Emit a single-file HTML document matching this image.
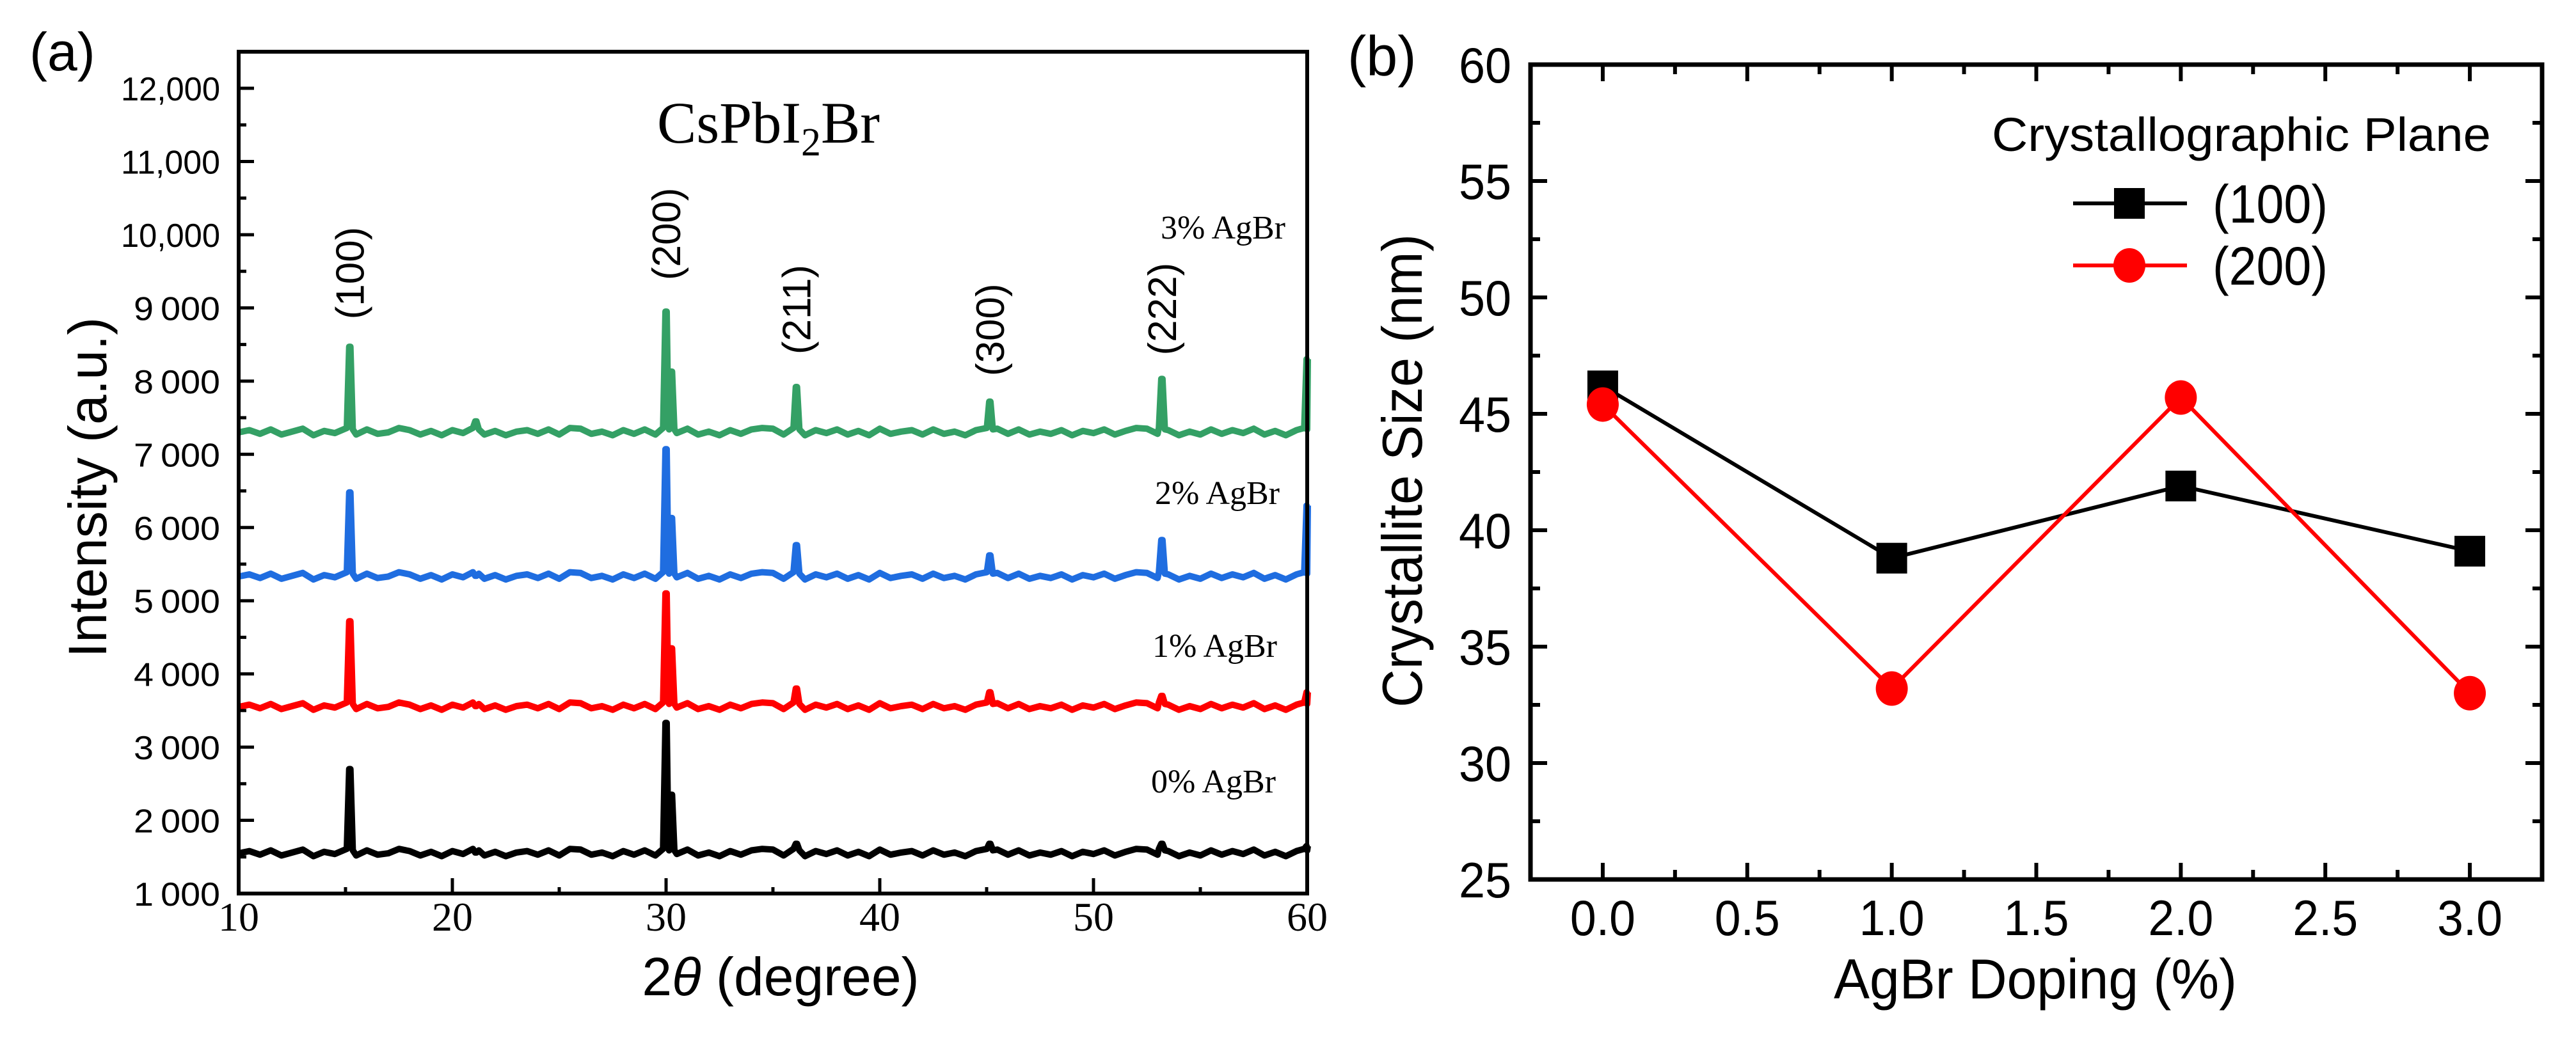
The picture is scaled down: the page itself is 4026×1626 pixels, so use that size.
<!DOCTYPE html>
<html><head><meta charset="utf-8">
<style>
html,body{margin:0;padding:0;background:#fff;}
svg{display:block;}
text{fill:#000;}
</style></head>
<body>
<svg id="fig" xmlns="http://www.w3.org/2000/svg" width="4026" height="1626" viewBox="0 0 4026 1626">
  <rect x="0" y="0" width="4026" height="1626" fill="#fff"/>
  <g id="pa"></g>
  <g id="pb"></g>
</svg>
<script>
// ---------- Panel (a) data ----------
const xrdSeriesNames = ["0% AgBr","1% AgBr","2% AgBr","3% AgBr"];
const xrdColors = ["#000000","#ff0000","#1f6de0","#34a065"];
const xrdBaselines = [1550, 3550, 5330, 7300];
const peakPositions = [15.2, 21.1, 30.0, 30.25, 36.1, 45.15, 53.2, 60.0];
const peaks0 = [2700, 1560, 3330, 2350, 1680, 1680, 1680, 1650];
const peaks1 = [4720, 3560, 5100, 4350, 3800, 3750, 3700, 3750];
const peaks2 = [6480, 5340, 7070, 6130, 5760, 5620, 5830, 6300];
const peaks3 = [8470, 7450, 8950, 8130, 7920, 7720, 8030, 8300];
const ripple = [0,30,-20,40,-30,10,50,-40,20,-10,30,-30,40,-20,0,60,30,-30,20,-40,
  30,-10,40,-30,20,-40,10,30,-20,40,-30,60,50,-20,10,-40,30,-20,40,-30,
  20,-10,50,-30,10,-40,30,-20,40,60,50,-30,20,-40,30,-10,40,-30,20,-40,
  50,-20,10,30,-30,40,-20,10,-40,30,60,50,-20,40,-30,10,-20,30,-40,20,
  -10,40,-30,20,60,50,-20,30,-40,10,-30,40,-20,30,-10,50,-30,20,-40,30,0];
const xTicksA = [10,20,30,40,50,60];
const yTicksA = [1000,2000,3000,4000,5000,6000,7000,8000,9000,10000,11000,12000];
const yTickLabelsA = ["1\u2009000","2\u2009000","3\u2009000","4\u2009000","5\u2009000","6\u2009000","7\u2009000","8\u2009000","9\u2009000","10,000","11,000","12,000"];
const planeLabels = ["(100)","(200)","(211)","(300)","(222)"];
const planePos = [15.2, 30.0, 36.1, 45.15, 53.2];
const planeLabelCenter = [9475, 10010, 8977, 8700, 8985];

// ---------- Panel (b) data ----------
const doping = [0.0, 1.0, 2.0, 3.0];
const size100 = [46.2, 38.8, 41.9, 39.1];
const size200 = [45.4, 33.2, 45.7, 33.0];
const xTicksB = [0.0,0.5,1.0,1.5,2.0,2.5,3.0];
const yTicksB = [25,30,35,40,45,50,55,60];

const NS = "http://www.w3.org/2000/svg";
function mk(parent, tag, attrs, txt){
  const e = document.createElementNS(NS, tag);
  for (const k in attrs) e.setAttribute(k, attrs[k]);
  if (txt !== undefined) e.textContent = txt;
  parent.appendChild(e);
  return e;
}

// ===== Panel A =====
const pa = document.getElementById('pa');
const AL=373, AR=2043, AB=1397;
const ax = v => AL + (v-10)/50*(AR-AL);
const ay = v => AB - (v-1000)*0.11445;
const AT = ay(12500);

const allPeaks=[peaks0,peaks1,peaks2,peaks3];
allPeaks.forEach((pk,si)=>{
  const base = xrdBaselines[si];
  let pts=[];
  for(let i=0;i<ripple.length;i++){ pts.push([10+i*0.5, base+ripple[i]]); }
  pts = pts.filter(q=>{
    for(const p of peakPositions){ if(Math.abs(q[0]-p)<0.2) return false; }
    return true;
  });
  peakPositions.forEach((p,pi)=>{
    const h = pk[pi];
    pts.push([p-0.14, base+60]);
    pts.push([p-0.03, h]);
    pts.push([p+0.03, h]);
    pts.push([Math.min(p+0.14,60), base+40]);
  });
  pts.sort((a,b)=>a[0]-b[0]);
  const d = pts.map((q,i)=>(i?'L':'M')+ax(q[0]).toFixed(1)+','+ay(q[1]).toFixed(1)).join(' ');
  const path = mk(pa,'path',{d:d,fill:'none',stroke:xrdColors[si],'stroke-width':10,'stroke-linejoin':'round'});
  
  
});

const axA = mk(pa,'path',{d:`M${AL},${AT} L${AL},${AB} L${AR},${AB} L${AR},${AT} Z`,fill:'none',stroke:'#000','stroke-width':6});


for(let v=1000; v<=12500; v+=500){
  const major = v%1000===0;
  mk(pa,'line',{x1:AL,x2:AL+(major?24:12),y1:ay(v),y2:ay(v),stroke:'#000','stroke-width':5});
}
yTicksA.forEach((v,i)=>{
  const t = mk(pa,'text',{x:344,y:ay(v)+19,'text-anchor':'end','font-family':'Liberation Sans, sans-serif','font-size':52,'textLength':i>=9?155:135,'lengthAdjust':'spacingAndGlyphs'},yTickLabelsA[i]);
  
  
});
for(let v=10; v<=60; v+=5){
  const major = v%10===0;
  mk(pa,'line',{x1:ax(v),x2:ax(v),y1:AB,y2:AB-(major?24:10),stroke:'#000','stroke-width':5});
}
xTicksA.forEach(v=>{
  const t = mk(pa,'text',{x:ax(v),y:1455,'text-anchor':'middle','font-family':'Liberation Serif, serif','font-size':64},String(v));
  
  
});
let t;
t = mk(pa,'text',{x:1220,y:1556,'text-anchor':'middle','font-family':'Liberation Sans, sans-serif','font-size':84},'');
mk(t,'tspan',{},'2');
mk(t,'tspan',{'font-style':'italic'},'\u03B8');
mk(t,'tspan',{},' (degree)');


t = mk(pa,'text',{x:0,y:0,'text-anchor':'middle','font-family':'Liberation Sans, sans-serif','font-size':84,transform:'translate(166,762) rotate(-90)'},'Intensity (a.u.)');


t = mk(pa,'text',{x:46,y:110,'font-family':'Liberation Sans, sans-serif','font-size':84},'(a)');


t = mk(pa,'text',{x:1027,y:223,'font-family':'Liberation Serif, serif','font-size':92},'CsPbI');
mk(t,'tspan',{'font-size':62,dy:20},'2');
mk(t,'tspan',{dy:-20},'Br');


planeLabels.forEach((s,i)=>{
  const cx = ax(planePos[i])+22, cy = ay(planeLabelCenter[i]);
  const e = mk(pa,'text',{x:0,y:0,'text-anchor':'middle','font-family':'Liberation Sans, sans-serif','font-size':62,transform:`translate(${cx},${cy}) rotate(-90)`},s);
  
  
});
const sampleLabelY = [1239,1027,788,373];
const sampleLabelX = [1799,1801,1805,1814];
xrdSeriesNames.forEach((s,i)=>{
  const e = mk(pa,'text',{x:sampleLabelX[i],y:sampleLabelY[i],'font-family':'Liberation Serif, serif','font-size':52},s);
  
  
});

// ===== Panel B =====
const pb = document.getElementById('pb');
const BL=2392, BR=3973, BT=101, BB=1375;
const bx = v => BL + (v+0.25)/3.5*(BR-BL);
const by = v => BB - (v-25)/35*(BB-BT);
const fr = mk(pb,'rect',{x:BL,y:BT,width:BR-BL,height:BB-BT,fill:'none',stroke:'#000','stroke-width':7});


for(let v=25; v<=60; v+=2.5){
  const major = Math.abs(v%5)<1e-6;
  const L = major?26:15;
  mk(pb,'line',{x1:BL,x2:BL+L,y1:by(v),y2:by(v),stroke:'#000','stroke-width':6});
  mk(pb,'line',{x1:BR,x2:BR-L,y1:by(v),y2:by(v),stroke:'#000','stroke-width':6});
}
for(let v=0; v<=3.0001; v+=0.25){
  const major = Math.abs((v*2)%1)<1e-6;
  const L = major?26:15;
  mk(pb,'line',{x1:bx(v),x2:bx(v),y1:BB,y2:BB-L,stroke:'#000','stroke-width':6});
  mk(pb,'line',{x1:bx(v),x2:bx(v),y1:BT,y2:BT+L,stroke:'#000','stroke-width':6});
}
yTicksB.forEach(v=>{
  const e = mk(pb,'text',{x:2362,y:by(v)+28,'text-anchor':'end','font-family':'Liberation Sans, sans-serif','font-size':78,'textLength':82,'lengthAdjust':'spacingAndGlyphs'},String(v));
  
  
});
xTicksB.forEach(v=>{
  const e = mk(pb,'text',{x:bx(v),y:1462,'text-anchor':'middle','font-family':'Liberation Sans, sans-serif','font-size':78,'textLength':102,'lengthAdjust':'spacingAndGlyphs'},v.toFixed(1));
  
  
});
t = mk(pb,'text',{x:3181,y:1561,'text-anchor':'middle','font-family':'Liberation Sans, sans-serif','font-size':88,'textLength':630,'lengthAdjust':'spacingAndGlyphs'},'AgBr Doping (%)');


t = mk(pb,'text',{x:0,y:0,'text-anchor':'middle','font-family':'Liberation Sans, sans-serif','font-size':88,transform:'translate(2222,736) rotate(-90)','textLength':740,'lengthAdjust':'spacingAndGlyphs'},'Crystallite Size (nm)');


t = mk(pb,'text',{x:2106,y:118,'font-family':'Liberation Sans, sans-serif','font-size':88},'(b)');



function series(vals, color, kind, name){
  const d = vals.map((v,i)=>(i?'L':'M')+bx(doping[i]).toFixed(1)+','+by(v).toFixed(1)).join(' ');
  const l = mk(pb,'path',{d:d,fill:'none',stroke:color,'stroke-width':6});
  
  
  vals.forEach((v,i)=>{
    let m;
    if(kind==='sq') m = mk(pb,'rect',{x:bx(doping[i])-24,y:by(v)-24,width:48,height:48,fill:color});
    else m = mk(pb,'ellipse',{cx:bx(doping[i]),cy:by(v),rx:25,ry:27,fill:color});
    
    
  });
}
series(size100,'#000','sq','series-100');
series(size200,'#ff0000','ci','series-200');

t = mk(pb,'text',{x:3113,y:236,'font-family':'Liberation Sans, sans-serif','font-size':74,'textLength':780,'lengthAdjust':'spacingAndGlyphs'},'Crystallographic Plane');


const leg = [['(100)','#000','sq',318],['(200)','#ff0000','ci',415]];
leg.forEach(L=>{
  const g = mk(pb,'g',{});
  
  
  mk(g,'line',{x1:3240,x2:3418,y1:L[3],y2:L[3],stroke:L[1],'stroke-width':6});
  if(L[2]==='sq') mk(g,'rect',{x:3304,y:L[3]-24,width:48,height:48,fill:L[1]});
  else mk(g,'ellipse',{cx:3328,cy:L[3],rx:25,ry:27,fill:L[1]});
  mk(g,'text',{x:3458,y:L[3]+30,'font-family':'Liberation Sans, sans-serif','font-size':84,'textLength':180,'lengthAdjust':'spacingAndGlyphs'},L[0]);
});
</script>
</body></html>
